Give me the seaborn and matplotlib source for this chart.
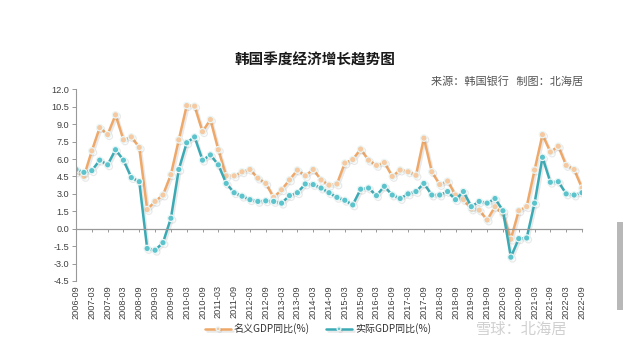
import matplotlib
matplotlib.use("Agg")
import matplotlib.pyplot as plt
import seaborn as sns
import pandas as pd
from matplotlib import patheffects as pe
from matplotlib.patches import Rectangle

# ---------------- data ----------------
quarters = [f"{y}-{m:02d}" for y in range(2006, 2023) for m in (3, 6, 9, 12)]
quarters = quarters[quarters.index("2006-09"):quarters.index("2022-09") + 1]

nominal = [4.9, 4.5, 6.7, 8.7, 8.1, 9.8, 7.65, 7.9, 7.0, 1.65,
           2.35, 2.9, 4.65, 7.65, 10.6, 10.55, 8.35, 9.4, 6.8, 4.55,
           4.55, 4.9, 5.1, 4.35, 3.9, 2.7, 3.35, 4.2, 5.05, 4.55,
           5.1, 4.2, 3.75, 3.85, 5.65, 5.95, 6.85, 5.9, 5.45, 5.7,
           4.5, 5.05, 4.9, 4.6, 7.8, 4.9, 3.8, 4.1, 2.9, 2.5,
           1.7, 1.6, 0.75, 1.9, 1.25, -0.9, 1.55, 1.9, 5.05, 8.1,
           6.6, 7.1, 5.45, 5.1, 3.5]

real = [5.1, 4.85, 5.0, 5.9, 5.5, 6.8, 5.9, 4.4, 4.05, -1.7,
        -1.85, -1.2, 0.9, 5.1, 7.4, 7.9, 5.9, 6.35, 5.5, 3.9,
        3.1, 2.8, 2.5, 2.35, 2.4, 2.35, 2.2, 2.85, 3.1, 3.85,
        3.8, 3.5, 3.1, 2.7, 2.45, 2.05, 3.4, 3.5, 2.85, 3.65,
        2.9, 2.6, 3.0, 3.2, 3.9, 2.9, 2.9, 3.2, 2.5, 3.2,
        1.9, 2.35, 2.2, 2.6, 1.55, -2.45, -0.85, -0.8, 2.2, 6.15,
        4.0, 4.05, 3.0, 2.9, 3.1]

series_names = ["名义GDP同比(%)", "实际GDP同比(%)"]
yticks = [-4.5, -3.0, -1.5, 0.0, 1.5, 3.0, 4.5, 6.0, 7.5, 9.0, 10.5, 12.0]
title = "韩国季度经济增长趋势图"
subtitle = "来源：韩国银行   制图：北海居"
watermark = "雪球：北海居"

# ---------------- style ----------------
sns.set_style("white")
plt.rcParams["font.family"] = ["Noto Sans CJK SC", "DejaVu Sans"]

orange = "#EFA868"
teal = "#3AAAB5"

fig = plt.figure(figsize=(6.4, 3.46), dpi=100)
fig.patch.set_facecolor("white")
ax = fig.add_axes([76 / 640, 1 - 281 / 346, (582 - 76) / 640, (281 - 89.3) / 346])

idx = list(range(len(quarters)))
df = pd.DataFrame({"i": idx, "nominal": nominal, "real": real})

shadow = [pe.SimpleLineShadow(offset=(1.2, -1.2), alpha=0.18, shadow_color="#888888"), pe.Normal()]
for col, color, face, name in [("nominal", orange, "#F6C9A0", series_names[0]),
                               ("real", teal, "#5BC3CC", series_names[1])]:
    sns.lineplot(data=df, x="i", y=col, ax=ax, color=color, linewidth=1.8,
                 marker="o", markersize=4.6, markerfacecolor=face,
                 markeredgecolor="#EAF6F6", markeredgewidth=0.9,
                 label=name, path_effects=shadow, legend=False)

ax.set_xlim(0, len(quarters) - 1)
ax.set_ylim(-4.5, 12.0)
ax.set_yticks(yticks)
ax.set_yticklabels([f"{v:.1f}" for v in yticks], family="Liberation Sans", fontsize=6.6, color="#404040")
ax.set_xlabel("")
ax.set_ylabel("")

for s in ["top", "right"]:
    ax.spines[s].set_visible(False)
ax.spines["left"].set_color("#999999")
ax.spines["left"].set_linewidth(0.8)
ax.spines["bottom"].set_position(("data", 0))
ax.spines["bottom"].set_color("#999999")
ax.spines["bottom"].set_linewidth(0.9)
ax.tick_params(axis="y", direction="out", length=3, width=0.7, color="#999999", pad=2, left=True)
ax.set_xticks(range(0, len(quarters), 2))
ax.tick_params(axis="x", direction="out", length=2.5, width=0.7, color="#999999", labelbottom=False, bottom=True)

sec = ax.secondary_xaxis(0)
sec.set_xticks(range(0, len(quarters), 2))
sec.set_xticklabels(quarters[::2], rotation=90, family="Liberation Sans", fontsize=6.6, color="#404040")
sec.tick_params(length=0, pad=3)
sec.spines["bottom"].set_visible(False)

# titles
fig.text(315 / 640, 1 - 60 / 346, title, ha="center", va="center", fontsize=10.5,
         fontweight="bold", color="#1a1a1a")
fig.text(583 / 640, 1 - 82 / 346, subtitle, ha="right", va="center", fontsize=8,
         color="#555555", style="italic")

# legend
handles, labels = ax.get_legend_handles_labels()
fig.legend(handles, labels, loc="center", bbox_to_anchor=(318 / 640, 1 - 329 / 346), ncol=2,
           frameon=False, fontsize=7.2, handlelength=2.6, columnspacing=1.6,
           handletextpad=0.3, markerscale=0.6, labelcolor="#333333")

# watermark and side bar from the screenshot
fig.text(522 / 640, 1 - 329 / 346, watermark, ha="center", va="center", fontsize=11,
         color="#d0d0d0")
fig.patches.append(Rectangle((617 / 640, 1 - 310 / 346), 6 / 640, 88 / 346,
                             transform=fig.transFigure, facecolor="#b8b8b8", edgecolor="none"))

fig.savefig("out.png", dpi=100, facecolor="white")
